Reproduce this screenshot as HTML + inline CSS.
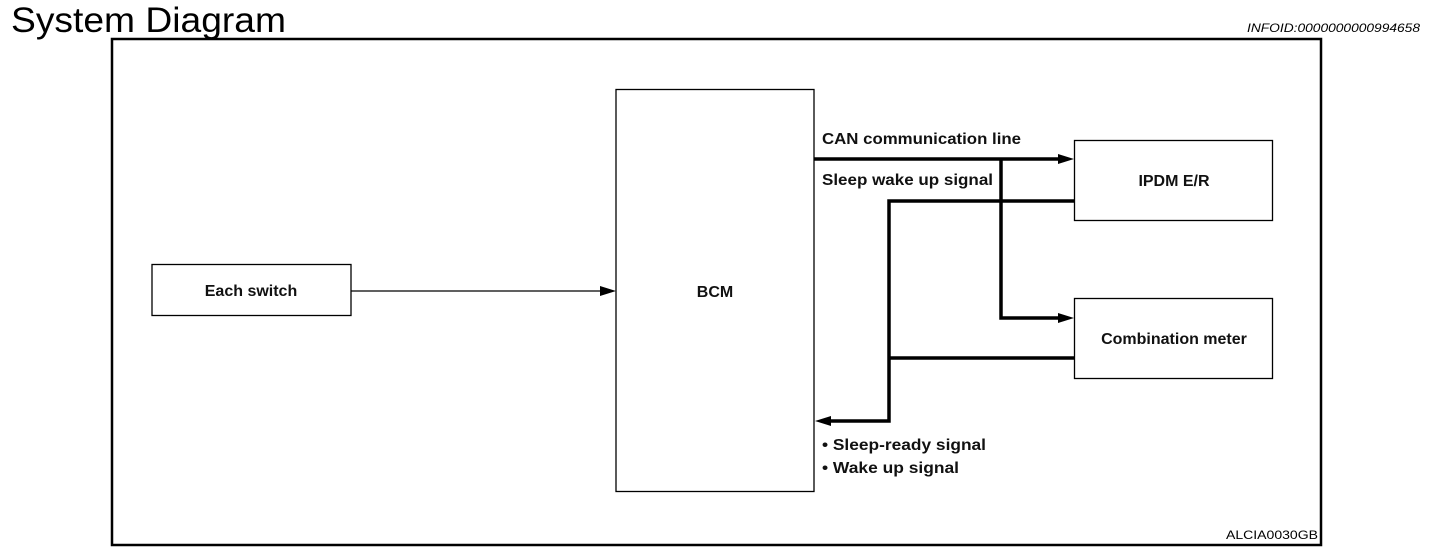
<!DOCTYPE html>
<html><head><style>
body{margin:0;width:1456px;height:556px;background:#fff;overflow:hidden;font-family:"Liberation Sans",sans-serif;}
</style></head><body>
<svg width="1456" height="556" xmlns="http://www.w3.org/2000/svg" style="position:absolute;left:0;top:0">
<text x="11" y="32" font-size="35" textLength="275" lengthAdjust="spacingAndGlyphs" font-family="Liberation Sans,sans-serif">System Diagram</text>
<text x="1420" y="32" font-size="12" font-style="italic" text-anchor="end" textLength="173" lengthAdjust="spacingAndGlyphs" font-family="Liberation Sans,sans-serif">INFOID:0000000000994658</text>
<rect x="112" y="39" width="1209" height="506" fill="none" stroke="#000" stroke-width="2.5"/>
<g fill="none" stroke="#000" stroke-width="1.3">
<rect x="152" y="264.5" width="199" height="51"/>
<rect x="616" y="89.5" width="198" height="402"/>
<rect x="1074.5" y="140.5" width="198" height="80"/>
<rect x="1074.5" y="298.5" width="198" height="80"/>
<line x1="351" y1="291" x2="604" y2="291"/>
</g>
<g fill="none" stroke="#000" stroke-width="3.5">
<polyline points="814,159 1062,159"/>
<polyline points="1001,159 1001,318 1062,318"/>
<polyline points="1074,201 889,201 889,421 828,421"/>
<polyline points="1074,358 889,358"/>
</g>
<g fill="#000">
<polygon points="616,291 600,286 600,296"/>
<polygon points="1074,159 1058,154 1058,164"/>
<polygon points="1074,318 1058,313 1058,323"/>
<polygon points="815,421 831,416 831,426"/>
</g>
<g font-size="16" font-weight="bold" font-family="Liberation Sans,sans-serif" fill="#111">
<text x="251" y="296" text-anchor="middle">Each switch</text>
<text x="715" y="297" text-anchor="middle">BCM</text>
<text x="1174" y="186" text-anchor="middle">IPDM E/R</text>
<text x="1174" y="344" text-anchor="middle">Combination meter</text>
<text x="822" y="144" textLength="199" lengthAdjust="spacingAndGlyphs">CAN communication line</text>
<text x="822" y="185" textLength="171" lengthAdjust="spacingAndGlyphs">Sleep wake up signal</text>
<text x="822" y="450" textLength="164" lengthAdjust="spacingAndGlyphs">• Sleep-ready signal</text>
<text x="822" y="473" textLength="137" lengthAdjust="spacingAndGlyphs">• Wake up signal</text>
</g>
<text x="1318" y="539" font-size="12" text-anchor="end" textLength="92" lengthAdjust="spacingAndGlyphs" font-family="Liberation Sans,sans-serif">ALCIA0030GB</text>
</svg>
</body></html>
